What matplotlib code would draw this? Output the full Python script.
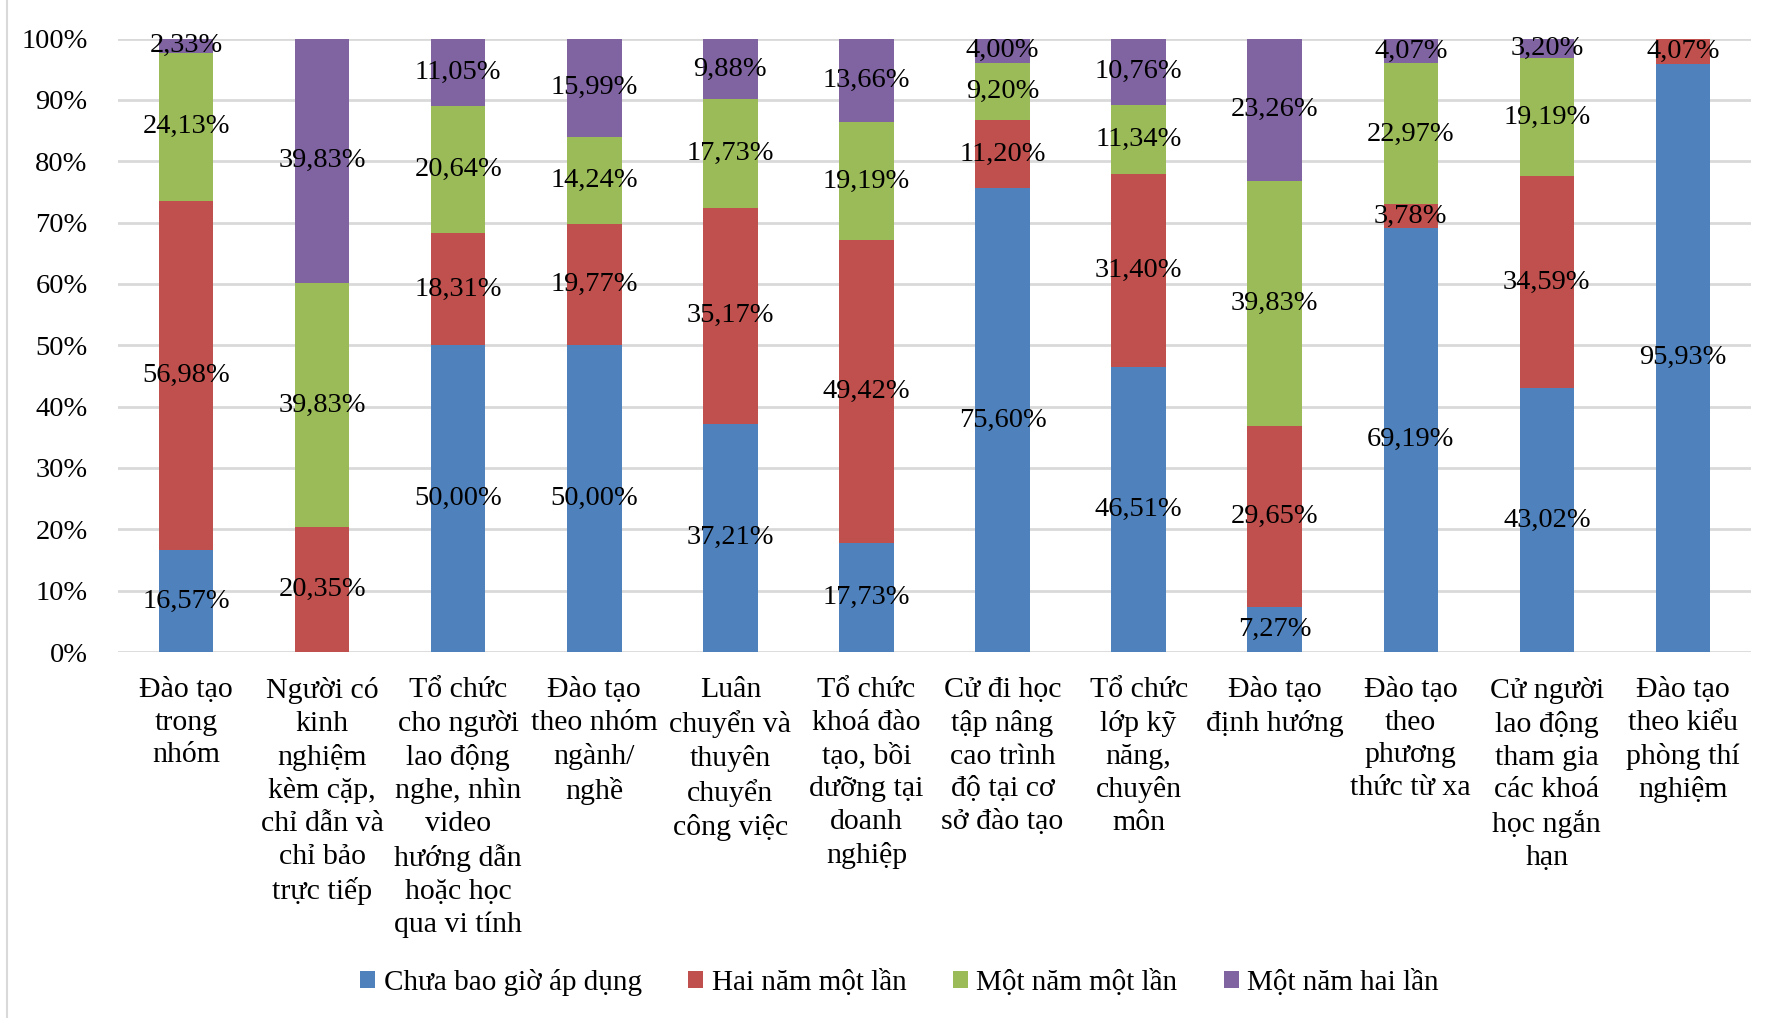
import matplotlib
matplotlib.use("Agg")
import matplotlib.pyplot as plt
import numpy as np

plt.rcParams['font.family'] = ['Liberation Serif', 'DejaVu Serif']

categories = [
    "Đào tạo\ntrong\nnhóm",
    "Người có\nkinh\nnghiệm\nkèm cặp,\nchỉ dẫn và\nchỉ bảo\ntrực tiếp",
    "Tổ chức\ncho người\nlao động\nnghe, nhìn\nvideo\nhướng dẫn\nhoặc học\nqua vi tính",
    "Đào tạo\ntheo nhóm\nngành/\nnghề",
    "Luân\nchuyển và\nthuyên\nchuyển\ncông việc",
    "Tổ chức\nkhoá đào\ntạo, bồi\ndưỡng tại\ndoanh\nnghiệp",
    "Cử đi học\ntập nâng\ncao trình\nđộ tại cơ\nsở đào tạo",
    "Tổ chức\nlớp kỹ\nnăng,\nchuyên\nmôn",
    "Đào tạo\nđịnh hướng",
    "Đào tạo\ntheo\nphương\nthức từ xa",
    "Cử người\nlao động\ntham gia\ncác khoá\nhọc ngắn\nhạn",
    "Đào tạo\ntheo kiểu\nphòng thí\nnghiệm",
]

series_names = ["Chưa bao giờ áp dụng", "Hai năm một lần", "Một năm một lần", "Một năm hai lần"]
never_applied = [16.57, 0.00, 50.00, 50.00, 37.21, 17.73, 75.60, 46.51, 7.27, 69.19, 43.02, 95.93]
every_two_years = [56.98, 20.35, 18.31, 19.77, 35.17, 49.42, 11.20, 31.40, 29.65, 3.78, 34.59, 4.07]
once_a_year = [24.13, 39.83, 20.64, 14.24, 17.73, 19.19, 9.20, 11.34, 39.83, 22.97, 19.19, 0.00]
twice_a_year = [2.33, 39.83, 11.05, 15.99, 9.88, 13.66, 4.00, 10.76, 23.26, 4.07, 3.20, 0.00]

colors = ["#4F81BD", "#C0504D", "#9BBB59", "#8064A2"]

fig = plt.figure(figsize=(17.78, 10.18), dpi=100)
ax = fig.add_axes([0.0664, 0.3595, 0.9184, 0.6026])

x = np.arange(len(categories))
bottom = np.zeros(len(categories))
fs = 20.5
fs_cat = 21.5
for name, vals, col in zip(series_names,
                           [never_applied, every_two_years, once_a_year, twice_a_year],
                           colors):
    vals = np.array(vals)
    ax.bar(x, vals, 0.4, bottom=bottom, color=col, label=name, zorder=2)
    for xi, b, v in zip(x, bottom, vals):
        if v > 0:
            ax.text(xi, b + v / 2, f"{v:.2f}".replace('.', ',') + "%",
                    ha='center', va='center', fontsize=fs, color='black', zorder=3)
    bottom += vals

ax.set_xlim(-0.5, len(categories) - 0.5)
ax.set_ylim(0, 100)
ax.set_yticks(np.arange(0, 101, 10))
ax.set_yticklabels([f"{t}%" for t in range(0, 101, 10)], fontsize=fs)
ax.yaxis.grid(True, color="#D9D9D9", linewidth=2)
ax.set_axisbelow(True)
ax.set_xticks(x)
ax.set_xticklabels(categories, fontsize=fs_cat, linespacing=1.33, va='top')
ax.tick_params(axis='both', length=0)
ax.tick_params(axis='x', pad=18)
ax.tick_params(axis='y', pad=22)
for s in ax.spines.values():
    s.set_visible(False)

# thin chart-area border on the left
fig.add_artist(plt.Line2D([0.004, 0.004], [0.0, 1.0], color="#D9D9D9", linewidth=1.5,
                          transform=fig.transFigure))

fig.legend(loc='center', bbox_to_anchor=(0.506, 0.035), ncol=4, frameon=False,
           fontsize=21, handlelength=0.5, handleheight=0.5, handletextpad=0.3,
           columnspacing=1.6)

fig.savefig("out.png", dpi=100)
